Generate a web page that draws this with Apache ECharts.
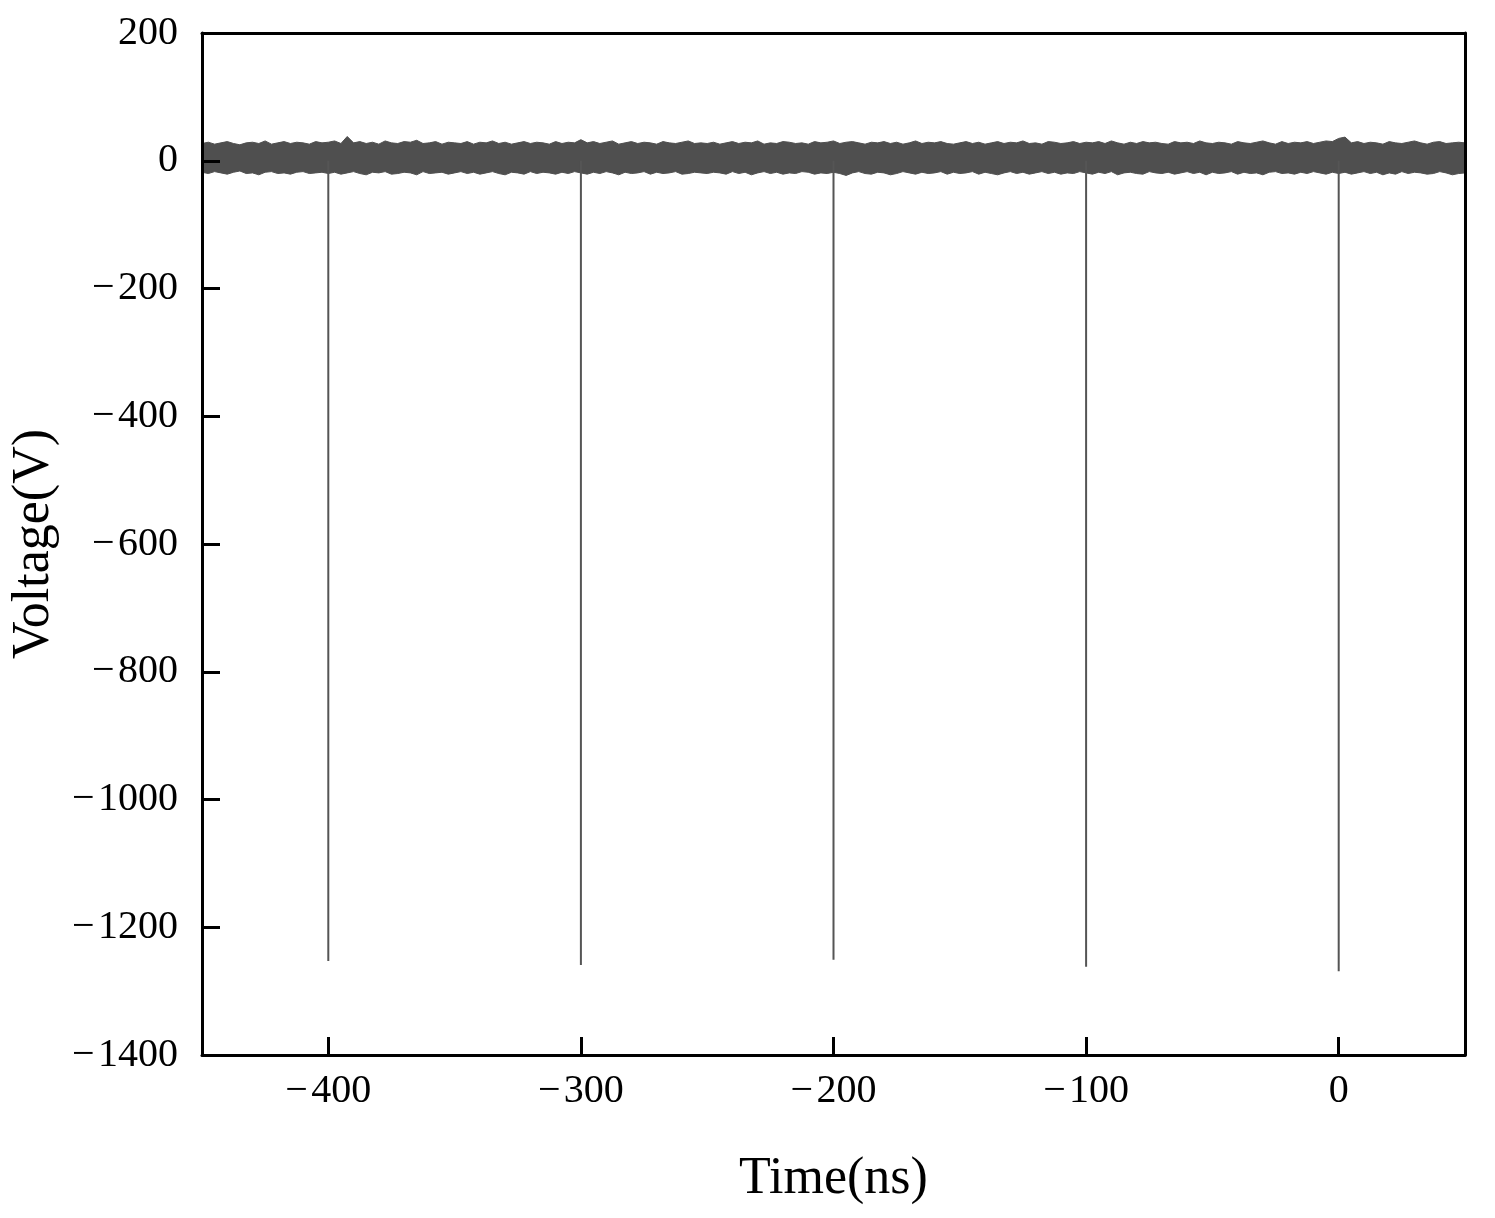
<!DOCTYPE html>
<html>
<head>
<meta charset="utf-8">
<script src="https://cdn.jsdelivr.net/npm/echarts@6/dist/echarts.min.js"></script>
<style>
html,body{margin:0;padding:0;background:#fff;}
#chart{width:1495px;height:1218px;}
</style>
</head>
<body>
<div id="chart"></div>
<script>
// Noise band envelope, sampled every 2.5 ns from -450 ns to 50 ns
const tStart = -450;
const tStep = 2.5;
const noiseUpper = [
  27,29,26,28,30,27,25,28,29,27,31,26,28,30,27,29,28,26,30,28,
  29,31,27,38,28,30,27,29,26,31,28,27,30,29,32,27,28,30,26,29,
  28,27,30,26,29,28,31,27,29,26,28,30,27,29,28,26,30,27,29,28,
  33,28,30,27,29,31,26,28,30,27,29,28,26,30,28,27,29,31,27,28,
  27,29,26,28,30,27,29,28,31,26,28,27,30,29,27,28,26,30,28,29,
  31,27,29,30,28,26,29,28,30,27,29,26,28,31,27,29,28,30,27,26,
  28,30,27,29,26,28,30,27,29,28,31,27,28,26,30,29,27,28,30,27,
  29,28,30,27,31,28,26,29,27,30,28,29,27,26,30,28,29,27,31,28,
  27,29,28,26,30,28,27,29,31,28,26,30,27,29,28,30,27,29,31,30,
  35,37,28,30,27,29,28,26,30,28,27,29,31,28,26,29,30,27,28,29,
  28
];
const noiseLower = [
  -18,-20,-17,-19,-21,-18,-16,-20,-19,-22,-18,-17,-20,-19,-21,-18,-17,-20,-19,-18,
  -20,-18,-21,-19,-17,-20,-22,-18,-19,-17,-21,-20,-18,-19,-22,-17,-20,-19,-18,-21,
  -19,-17,-20,-18,-21,-19,-17,-20,-22,-18,-19,-21,-17,-20,-18,-19,-21,-18,-20,-17,
  -19,-21,-18,-20,-17,-19,-22,-18,-20,-19,-17,-21,-18,-20,-19,-17,-21,-20,-18,-19,
  -20,-18,-19,-21,-17,-20,-18,-22,-19,-17,-20,-18,-21,-19,-20,-17,-18,-21,-19,-20,
  -18,-20,-23,-19,-17,-20,-21,-18,-19,-22,-20,-17,-19,-21,-18,-20,-19,-17,-21,-18,
  -20,-19,-17,-21,-18,-20,-22,-19,-17,-20,-18,-21,-19,-17,-20,-18,-21,-19,-20,-17,
  -19,-21,-18,-20,-17,-22,-19,-18,-20,-21,-17,-19,-20,-18,-21,-19,-17,-20,-18,-22,
  -18,-20,-19,-17,-21,-18,-20,-19,-22,-18,-17,-20,-19,-21,-18,-20,-17,-19,-21,-18,
  -20,-18,-21,-19,-17,-20,-18,-22,-19,-21,-17,-20,-18,-19,-21,-20,-17,-19,-22,-20,
  -19
];
// Pulse spikes
const spikeTimes = [-400, -300, -200, -100, 0];
const spikeDepths = [-1253, -1259, -1251, -1262, -1269];
// Axes
const xTicks = [-400, -300, -200, -100, 0];
const xMin = -450, xMax = 50;
const yMin = -1400, yMax = 200, yStep = 200;

const times = noiseUpper.map((_, i) => tStart + i * tStep);
const spikeData = [];
spikeTimes.forEach((t, i) => {
  spikeData.push([t, 0], [t, spikeDepths[i]], '-');
});

const minus = v => (v < 0 ? '\u2212\u200A' + Math.abs(v) : String(v));
const FONT = 'Liberation Serif';
const bandColor = '#4f4f4f';

function renderBand(params, api) {
  if (params.dataIndex !== 0) return null;
  const pts = [];
  times.forEach((t, i) => pts.push(api.coord([t, noiseUpper[i]])));
  for (let i = times.length - 1; i >= 0; i--) pts.push(api.coord([times[i], noiseLower[i]]));
  return {
    type: 'polygon',
    shape: {points: pts},
    style: {fill: bandColor, stroke: bandColor, lineWidth: 1}
  };
}

const chart = echarts.init(document.getElementById('chart'), null, {renderer: 'canvas'});
chart.setOption({
  backgroundColor: '#ffffff',
  animation: false,
  grid: {left: 202, right: 30, top: 33, bottom: 163, containLabel: false, outerBoundsMode: 'none'},
  xAxis: [{
    type: 'value', min: xMin, max: xMax, position: 'bottom', z: 10,
    name: 'Time(ns)', nameLocation: 'middle', nameGap: 98,
    nameTextStyle: {fontFamily: FONT, fontSize: 52, color: '#000'},
    axisLine: {show: true, onZero: false, lineStyle: {color: '#000', width: 3}},
    axisTick: {show: true, inside: true, length: 18, customValues: xTicks, lineStyle: {color: '#000', width: 3}},
    axisLabel: {show: true, customValues: xTicks, margin: 16, fontFamily: FONT, fontSize: 40, color: '#000', formatter: minus},
    splitLine: {show: false}
  }, {
    type: 'value', min: xMin, max: xMax, position: 'top', z: 10,
    axisLine: {show: true, onZero: false, lineStyle: {color: '#000', width: 3}},
    axisTick: {show: false}, axisLabel: {show: false}, splitLine: {show: false}
  }],
  yAxis: [{
    type: 'value', min: yMin, max: yMax, interval: yStep, position: 'left', z: 10,
    name: 'Voltage(V)', nameLocation: 'middle', nameGap: 142, nameRotate: 90,
    nameTextStyle: {fontFamily: FONT, fontSize: 52, color: '#000'},
    axisLine: {show: true, onZero: false, lineStyle: {color: '#000', width: 3}},
    axisTick: {show: true, inside: true, length: 18, lineStyle: {color: '#000', width: 3}},
    axisLabel: {show: true, margin: 24, fontFamily: FONT, fontSize: 40, color: '#000', formatter: minus, showMinLabel: true, showMaxLabel: true},
    splitLine: {show: false}
  }, {
    type: 'value', min: yMin, max: yMax, interval: yStep, position: 'right', z: 10,
    axisLine: {show: true, onZero: false, lineStyle: {color: '#000', width: 3}},
    axisTick: {show: false}, axisLabel: {show: false}, splitLine: {show: false}
  }],
  series: [{
    type: 'custom', silent: true, z: 2,
    renderItem: renderBand,
    data: [[tStart, 0]]
  }, {
    type: 'line', data: spikeData, symbol: 'none', silent: true, connectNulls: false,
    lineStyle: {width: 2, color: '#555555'}, z: 3
  }]
});
</script>
</body>
</html>
